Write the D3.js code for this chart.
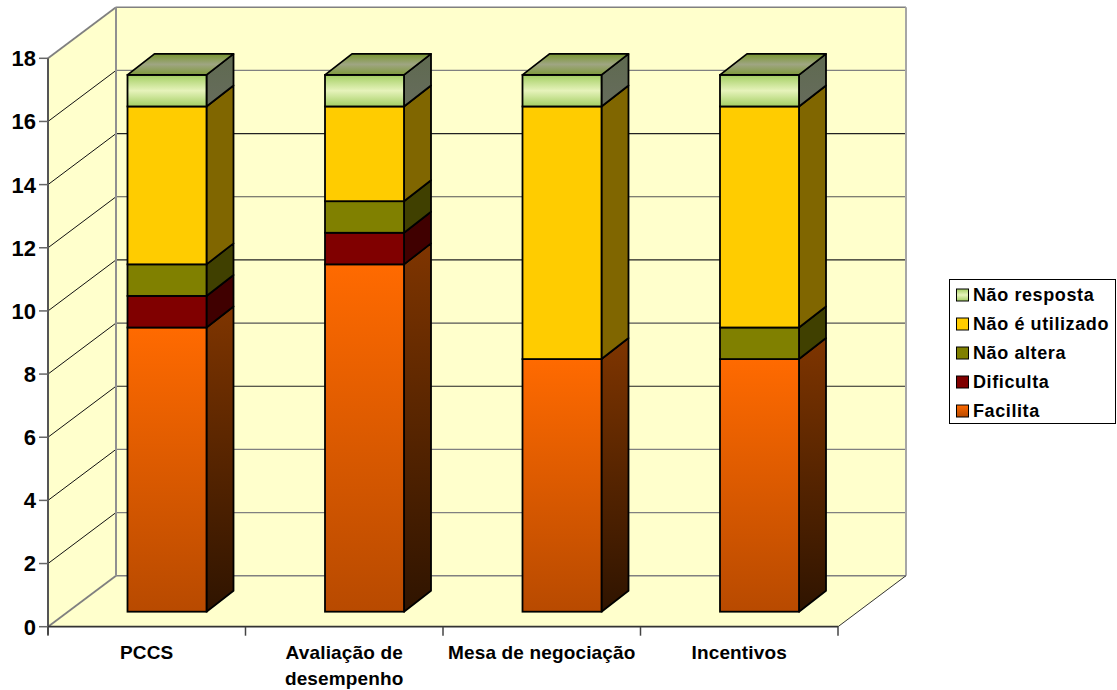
<!DOCTYPE html>
<html lang="pt">
<head>
<meta charset="utf-8">
<script src="https://cdn.jsdelivr.net/npm/d3@7"></script>
<style>
html,body{margin:0;padding:0;background:#fff}
svg{display:block}
text{font-family:"Liberation Sans",Arial,sans-serif;font-weight:bold;fill:#000}
</style>
</head>
<body>
<svg id="chart" width="1117" height="690"></svg>
<script>
const categories = ["PCCS", "Avaliação de desempenho", "Mesa de negociação", "Incentivos"];
const seriesNames = ["Facilita", "Dificulta", "Não altera", "Não é utilizado", "Não resposta"];
const facilita = [9, 11, 8, 8];
const dificulta = [1, 1, 0, 0];
const naoAltera = [1, 1, 0, 1];
const naoUtilizado = [5, 3, 8, 7];
const naoResposta = [1, 1, 1, 1];
const yTicks = [0, 2, 4, 6, 8, 10, 12, 14, 16, 18];

const seriesValues = [facilita, dificulta, naoAltera, naoUtilizado, naoResposta];
const frontColors = [
  ["#ff6a00", "#b84a00"], ["#800000", "#800000"], ["#808000", "#808000"],
  ["#ffcc00", "#ffcc00"], ["#add57a", "#e4f2b8"]
];
const sideColors = [
  ["#7f3500", "#2f1400"], ["#400000", "#400000"], ["#404000", "#404000"],
  ["#806600", "#806600"], ["#5f6a50", "#666c5c"]
];
const backLineColors = { 2: "#808080", 4: "#808080", 6: "#222", 8: "#555", 10: "#222", 12: "#555", 14: "#222", 16: "#808080", 18: "#808080" };

// Oblique projection: the floor recedes by this offset from front to back wall.
const wallDx = 68, wallDy = -51;
const barDx = 27, barDy = -21;
const barOffsetX = 79.5, barOffsetY = -15;

const x = d3.scaleBand().domain(categories).range([48, 838]);
const y = d3.scaleLinear().domain([0, 18]).range([626.7, 58.3]);
const barWidth = 79;

const svg = d3.select("#chart");
const defs = svg.append("defs");

function vGradient(id, stops) {
  const g = defs.append("linearGradient").attr("id", id)
    .attr("x1", 0).attr("y1", 0).attr("x2", 0).attr("y2", 1);
  stops.forEach(([o, c]) => g.append("stop").attr("offset", o).attr("stop-color", c));
  return `url(#${id})`;
}
const fillFront = seriesNames.map((_, i) => i === 4
  ? vGradient("front4", [[0, "#a3ce62"], [0.5, "#e6f3bb"], [1, "#a3ce62"]])
  : vGradient("front" + i, [[0, frontColors[i][0]], [1, frontColors[i][1]]]));
const fillSide = seriesNames.map((_, i) => vGradient("side" + i, [[0, sideColors[i][0]], [1, sideColors[i][1]]]));
const fillTop = vGradient("topFace", [[0, "#77962f"], [0.5, "#9fa582"], [1, "#7f9a3c"]]);
const fillLegendGreen = vGradient("legendGreen", [[0, "#a3ce62"], [0.5, "#e6f3bb"], [1, "#a3ce62"]]);
const fillLegendOrange = vGradient("legendOrange", [[0, "#ff6a00"], [1, "#b84a00"]]);

const poly = pts => pts.map(p => p.join(",")).join(" ");
const [x0, x1] = x.range();
const [yBottom, yTop] = y.range();

// Walls and floor
const walls = svg.append("g");
walls.append("polygon").attr("fill", "#ffffcc")
  .attr("points", poly([[x0, yBottom], [x0, yTop], [x0 + wallDx, yTop + wallDy], [x1 + wallDx, yTop + wallDy],
    [x1 + wallDx, yBottom + wallDy], [x1, yBottom]]));

// Gridlines across the side wall and back wall
const grid = svg.append("g");
grid.selectAll("line.side").data(yTicks).join("line").attr("class", "side")
  .attr("x1", x0).attr("y1", d => y(d))
  .attr("x2", x0 + wallDx).attr("y2", d => y(d) + wallDy)
  .attr("stroke", d => (d === 0 || d === 18) ? "#808080" : "#111").attr("stroke-width", d => (d === 0 || d === 18) ? 1.8 : 1);
grid.selectAll("line.back").data(yTicks.slice(1)).join("line").attr("class", "back")
  .attr("x1", x0 + wallDx).attr("y1", d => y(d) + wallDy)
  .attr("x2", x1 + wallDx).attr("y2", d => y(d) + wallDy)
  .attr("stroke", d => backLineColors[d]).attr("stroke-width", d => d === 18 ? 1.5 : 1.2);
grid.append("line").attr("x1", x0 + wallDx).attr("x2", x1 + wallDx)
  .attr("y1", yBottom + wallDy).attr("y2", yBottom + wallDy).attr("stroke", "#808080").attr("stroke-width", 1.5);
grid.append("line").attr("x1", x0 + wallDx).attr("x2", x0 + wallDx)
  .attr("y1", yTop + wallDy).attr("y2", yBottom + wallDy).attr("stroke", "#909090").attr("stroke-width", 2);
grid.append("line").attr("x1", x1 + wallDx).attr("x2", x1 + wallDx)
  .attr("y1", yTop + wallDy).attr("y2", yBottom + wallDy).attr("stroke", "#a6a6a6").attr("stroke-width", 2);
grid.append("line").attr("x1", x1).attr("x2", x1 + wallDx)
  .attr("y1", yBottom).attr("y2", yBottom + wallDy).attr("stroke", "#333").attr("stroke-width", 1);

// Stacked columns
categories.forEach((cat, c) => {
  const g = svg.append("g");
  const left = x(cat) + barOffsetX, right = left + barWidth;
  let base = 0;
  seriesValues.forEach((vals, s) => {
    const v = vals[c];
    if (!v) return;
    const yLow = y(base) + barOffsetY, yHigh = y(base + v) + barOffsetY;
    g.append("polygon").attr("points", poly([[right, yLow], [right + barDx, yLow + barDy],
      [right + barDx, yHigh + barDy], [right, yHigh]]))
      .attr("fill", fillSide[s]).attr("stroke", "#000").attr("stroke-width", 1.8).attr("stroke-linejoin", "round");
    g.append("rect").attr("x", left).attr("y", yHigh).attr("width", barWidth).attr("height", yLow - yHigh)
      .attr("fill", fillFront[s]).attr("stroke", "#000").attr("stroke-width", 1.8);
    base += v;
  });
  const yCap = y(base) + barOffsetY;
  g.append("polygon").attr("points", poly([[left, yCap], [left + barDx, yCap + barDy],
    [right + barDx, yCap + barDy], [right, yCap]]))
    .attr("fill", fillTop).attr("stroke", "#000").attr("stroke-width", 1.8).attr("stroke-linejoin", "round");
});

// Axes
const axisGroup = svg.append("g");
axisGroup.append("line").attr("x1", x0).attr("x2", x0).attr("y1", yTop).attr("y2", yBottom + 8).attr("stroke", "#555").attr("stroke-width", 2);
axisGroup.append("line").attr("x1", x0).attr("x2", x1).attr("y1", yBottom).attr("y2", yBottom).attr("stroke", "#333").attr("stroke-width", 1.8);
axisGroup.selectAll("line.ytick").data(yTicks).join("line").attr("class", "ytick")
  .attr("x1", x0 - 9).attr("x2", x0).attr("y1", d => y(d)).attr("y2", d => y(d))
  .attr("stroke", "#666").attr("stroke-width", 1.5);
axisGroup.selectAll("text.ylab").data(yTicks).join("text").attr("class", "ylab")
  .attr("x", 36).attr("y", d => y(d)).attr("text-anchor", "end").attr("dy", "0.36em")
  .attr("font-size", 22).text(d => d);
axisGroup.selectAll("line.xtick").data(categories.map(c => x(c) + x.bandwidth()).concat(x0)).join("line").attr("class", "xtick")
  .attr("x1", d => d).attr("x2", d => d).attr("y1", yBottom).attr("y2", yBottom + 9)
  .attr("stroke", "#444").attr("stroke-width", 1.5);

const categoryLines = { "Avaliação de desempenho": ["Avaliação de", "desempenho"] };
categories.forEach(cat => {
  const t = axisGroup.append("text").attr("text-anchor", "middle").attr("font-size", 19).attr("letter-spacing", 0.15);
  (categoryLines[cat] || [cat]).forEach((line, i) => {
    t.append("tspan").attr("x", x(cat) + x.bandwidth() / 2).attr("y", 659 + i * 26).text(line);
  });
});

// Legend, listed from the top of the stack down
const legend = svg.append("g");
legend.append("rect").attr("x", 949.5).attr("y", 279.5).attr("width", 166).attr("height", 144)
  .attr("fill", "#fff").attr("stroke", "#000").attr("stroke-width", 1);
const legendOrder = d3.range(seriesNames.length).reverse();
const legendY = d3.scalePoint().domain(legendOrder).range([295, 411]);
const legendFill = { 0: fillLegendOrange, 1: "#800000", 2: "#808000", 3: "#ffcc00", 4: fillLegendGreen };
legendOrder.forEach(s => {
  legend.append("rect").attr("x", 956.5).attr("y", legendY(s) - 6).attr("width", 12).attr("height", 12)
    .attr("fill", legendFill[s]).attr("stroke", "#000").attr("stroke-width", 1);
  legend.append("text").attr("x", 973).attr("y", legendY(s)).attr("dy", "0.36em")
    .attr("font-size", 18).attr("letter-spacing", 0.6).text(seriesNames[s]);
});
</script>
</body>
</html>
